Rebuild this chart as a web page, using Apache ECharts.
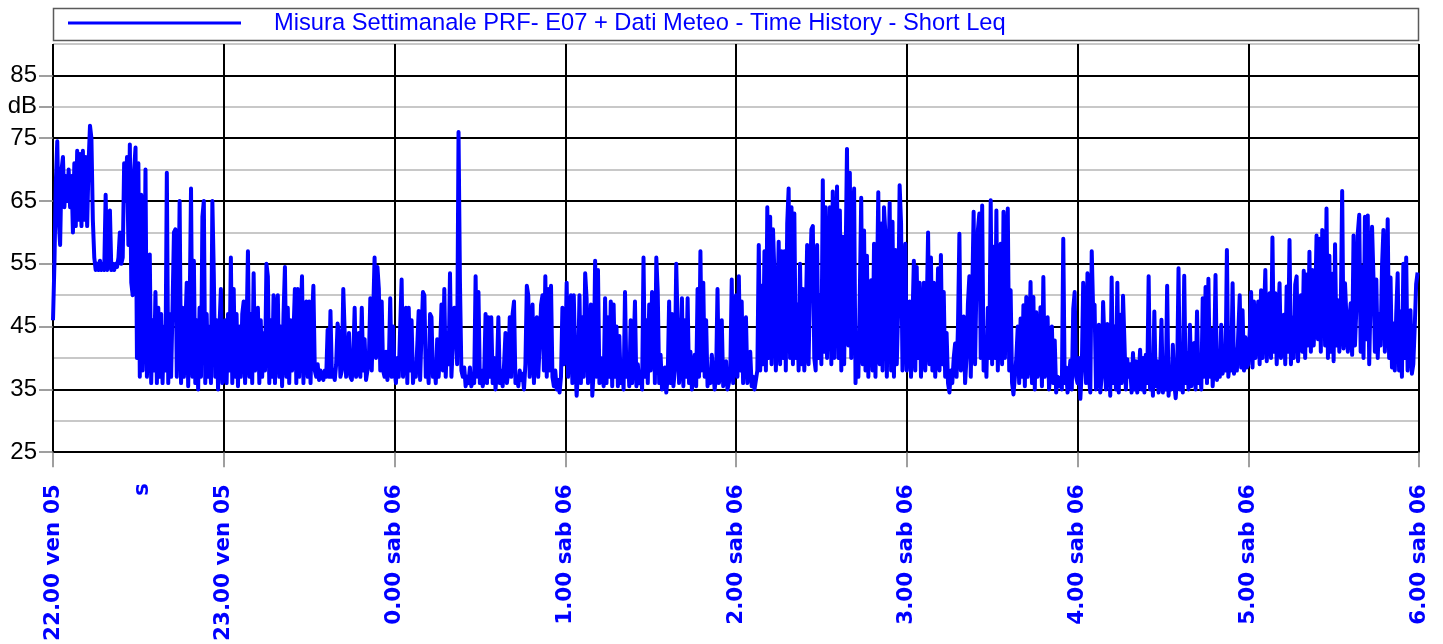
<!DOCTYPE html>
<html><head><meta charset="utf-8">
<script src="https://cdn.jsdelivr.net/npm/echarts@6/dist/echarts.min.js"></script>
<style>html,body{margin:0;padding:0;background:#fff}#c{width:1443px;height:644px}</style>
</head><body><div id="c"></div>
<script>
const seriesName = 'Misura Settimanale PRF- E07 + Dati Meteo - Time History - Short Leq';
const hourLabels = ['22.00 ven 05','23.00 ven 05','0.00 sab 06','1.00 sab 06','2.00 sab 06','3.00 sab 06','4.00 sab 06','5.00 sab 06','6.00 sab 06'];
const yTickValues = [25, 35, 45, 55, 65, 75, 80, 85];
const yTickLabels = ['25', '35', '45', '55', '65', '75', 'dB', '85'];
const stepMinutes = 0.5; // one reading every 30 s
const markerMinutes = [31.5];
const markerLabels = ['s'];

const h22 = [
46,55,68,74.5,62,58,70,72,64,69,
65,70,64,69,60,71,61,73,62,72.5,
61,73,62,72,61,71,77,75,62,56,
54,55,54,55.5,54,55,54,66,54,55,
63.5,54,55,54,55,54.5,56,60,55,56,
71,65,72,58,74,52,50,70,73.5,40,
71,37,66,38,47,70,37,45,56.5,36,
46,38,50.5,36,48,37,47,36,45,38,
69.5,36,47,37,48,60,60.5,37,46,65,
36,48,37,45,52,35.5,47,67,37,55.5,
36,46,35,48,37,62.5,65,36,47,37,
45,36,65,53.5,37,46,35,45,51,36];
const h23 = [
37,46,36,47,38,56,36,51,37,47,
35.5,45,37,47,49,36,44,57,37,47,
36,53.5,38,45,48,36,46,37,44,38,
55,53,36,46,37,50,36,47,50,37,
45,35.5,47,54.5,37,48,36,46,38,44,
51,36,51,37,46,53,36,45,49,37,
49,36,46,51.5,38,37,39,36.5,38,37,
36.5,38,37,44.5,37,47.5,37,38,36.5,39,
45.5,44,37,38,51,44,37,39,44,37,
36.5,40,48,37,38,44,37,48,38,43,
36.5,38,40,49.5,38,47,56,40,54.5,51,
38,49,38,37,41,36.5,39,49.5,37,45];
const h00 = [
38,36,40,37,45,52.5,37,41,48,36,
48,38,46,36,39,37,42,47.5,36.5,44,
50.5,50,37,40,36,47,46.5,37,39,36,
43,37,41,48.5,38,51,37,44,39,53.5,
37,42,48,47.5,39,76,52,38,37,38.5,
35.5,37,36,38.5,35.5,37,36,53,37,50.5,
36,38,35.5,37,47,36,46.5,37,46.5,36,
40,35,38,46.5,36,38,35.5,39,44,36,
38,46.5,37,47,49,36,37,35.5,38,36.5,
37.5,35,39,51.5,50,37,43,48.5,36,44,
46.5,37,42,48.5,50,38,53,37,51,38,
51.5,37,35.5,38,35,36.5,34.5,37,48,39];
const h01 = [
40,52,37,44,50,36,50,40,34,38,
50,36,46.5,37,53.5,49.5,36,40,48.5,34,
38,55.5,37,54,36,40,37,35.5,49.5,36,
46.5,37,49,35.5,48.5,37,45,35.5,43.5,36,
39,35,50.5,37,40,35.5,46,36,41,49,
35.5,39,36,37.5,35,56,37,46,36,48.5,
38,50.5,50,36,56,50.5,36,40.5,35,37,
38.5,34.5,37,49,36,47,35.5,38,55,45,
36,39,49.5,35.5,46,37,49.5,36,41,35,
37,40.5,35.5,51,37,57,38,52,37,46,
35.5,38,36,40.5,40.5,35,37,51,36,38,
46,35.5,37,39.5,35,36,38,52.5,36,42];
const h02 = [
50,37,53,38,49,36,42,46.5,36,38,
41,35.5,37,35,36.5,38,58,38,51.5,39,
57,38,64,40,62.5,39,60.5,53.5,38,47,
58.5,39,57,40,57,38,61.5,67,40,64,
39,63,40,48.5,38,55,39,51,38,46,
58,39,52,60.5,61,40,38,58,40,50,
39,68.3,41,64,40,52,64,39,66.5,40,
55,67.3,40,63.5,38,59.3,39,55,73.3,42,
69.5,40,58,67,36,44,37,50,65.5,39,
60.3,38,56.3,37,48,52.4,38,58.2,37,50,
66.4,39,61.4,38,64,59.8,37,52,64.7,38,
61.7,37,57.2,39,48,67.5,61.4,38,46,58.2];
const h03 = [
38,44,49,37,46,55.5,38,54.5,40,52,
37,45,52,38,47,60,39,56,38,52,
37,44,54.3,38,56.4,39,50.5,37,44,36,
34.5,38,36,40,42.3,37,45,59.8,38,43,
46.6,36,40,48.7,53,37,50,63.3,39,52,
60.4,63,40,64.3,38,43.4,37,48,40,65.1,
39,57.7,40,63.5,38,50,58.2,39,63.3,40,
57.2,63.8,38,50.8,36,34.2,37,40,45,36,
46.3,37,48.4,35.5,49.7,37,41,52.1,36,49.7,
35,47.3,37,40,48.1,35.5,52.9,37,40,46.5,
35,38,45,36,42.8,34.5,37,35.5,36.9,35,
59,36,38.5,34.5,37,39.6,35,47.8,50.5,37];
const h04 = [
36,40,33.5,38,52,44,36,53.5,37,34.5,
57,47.5,48.5,35,38,45.3,34.5,37,48.9,49,
35,45.4,44,34,52.8,36,45,35,52,34.5,
46.9,36,49.9,50,35,39.8,37,39,34.5,40.8,
35,39.5,34.5,37,41.3,35,40,34.5,40.5,36,
53,35,40.3,34,47.4,35.5,39.5,34.5,37,46.1,
34.5,38.8,35,51.5,34,37.6,35,42.1,36,33.6,
37,54.3,35,40.6,34.5,53.1,36,40.8,35,45.3,
35.5,38,42.4,35,47.4,36,39.4,35,49.5,37,
51.3,36,52.6,37,44.5,35.5,40,53.2,36.5,38.8,
37,45.3,37.5,40.6,38,57.2,37,39.6,38,51.9,
37.5,41.4,38,44,50,38.5,47.6,38,43.3,38.5];
const h05 = [
39,44,50.5,38.5,49,40,45,49,39,50.8,
40,46,54,39.5,45,50.3,40,59.2,41,50.3,
39,46,51.9,40,44,46.9,39,51.4,41,58.8,
39,46.4,40,51.7,53,39.5,46,50,41,53.9,
40,53.3,42,56.9,41,54,42,48,59.5,43,
59,41,60.4,59.3,42,63.8,40,56.3,41,53.4,
39.5,58.1,42,49.2,41,47,66.6,41.5,51.9,51.6,
41,46,48.7,40.5,59.5,42,48,59.9,62.8,41,
54.5,40,62.5,43,62.7,39,50,60.9,52.8,41,
52.5,40,47,42,54.6,60.4,41,48,62.1,40,
52.8,38.5,45.5,38,47,53.5,38,47.4,37,55,
40,56,38,44,47.6,37.5,39,45,51.8,53.6];

const values = [].concat(h22, h23, h00, h01, h02, h03, h04, h05);
const seriesData = values.map((v, i) => [i * stepMinutes, v]);

const chart = echarts.init(document.getElementById('c'), null, {renderer: 'canvas'});
chart.setOption({
  animation: false,
  backgroundColor: '#fff',
  grid: {left: 53, right: 24, top: 44, bottom: 191, containLabel: false},
  legend: {
    show: true, data: [seriesName], left: 68, top: 11, padding: 0,
    icon: 'rect', itemWidth: 173, itemHeight: 3, selectedMode: false,
    textStyle: {color: '#0000ff', fontSize: 23.7, fontFamily: 'Liberation Sans', padding: [0, 0, 0, 28], lineHeight: 24}
  },
  xAxis: {
    type: 'value', min: 0, max: 480, interval: 60,
    axisLine: {show: true, onZero: false, lineStyle: {color: '#000', width: 2}},
    axisTick: {show: true, length: 15, lineStyle: {color: '#808080', width: 1.5}},
    axisLabel: {
      rotate: 90, margin: 32, color: '#0000ff', fontWeight: 'bold', fontSize: 21.5,
      fontFamily: 'DejaVu Sans', showMinLabel: true, showMaxLabel: true,
      formatter: v => hourLabels[Math.round(v / 60)] || ''
    },
    splitLine: {show: true, lineStyle: {color: '#000', width: 2}}
  },
  yAxis: [{
    type: 'value', min: 25, max: 90, interval: 5,
    axisLine: {show: false},
    axisTick: {show: false},
    axisLabel: {show: false},
    splitLine: {show: true, lineStyle: {color: ['#000', '#c8c8c8'], width: 2}}
  }, {
    type: 'value', min: 25, max: 90, position: 'left', offset: 0,
    axisLine: {show: false},
    splitLine: {show: false},
    axisTick: {show: true, length: 14, customValues: yTickValues, lineStyle: {color: '#808080', width: 1.5}},
    axisLabel: {
      show: true, color: '#000', fontSize: 24, fontFamily: 'Liberation Sans', margin: 16,
      customValues: yTickValues,
      formatter: v => yTickLabels[yTickValues.indexOf(v)] || ''
    }
  }],
  series: [{
    type: 'line', name: seriesName, data: seriesData, yAxisIndex: 0,
    showSymbol: false, symbol: 'none', sampling: null,
    lineStyle: {color: '#0000ff', width: 4, join: 'round'},
    itemStyle: {color: '#0000ff'}
  }]
});

const g = [{
  type: 'rect', id: 'legendBox', z: -1,
  shape: {x: 53.5, y: 8.5, width: 1365, height: 32},
  style: {fill: '#fff', stroke: '#5a5a5a', lineWidth: 1.5}
}];
markerMinutes.forEach((m, i) => {
  const px = chart.convertToPixel({xAxisIndex: 0}, m);
  const py = chart.convertToPixel({yAxisIndex: 0}, 25);
  g.push({
    type: 'text', id: 'marker' + i, x: px, y: py + 31, rotation: Math.PI / 2,
    style: {text: markerLabels[i], fill: '#0000ff', font: 'bold 21px "DejaVu Sans"', align: 'right', verticalAlign: 'middle'}
  });
});
chart.setOption({graphic: g});
</script>
</body></html>
